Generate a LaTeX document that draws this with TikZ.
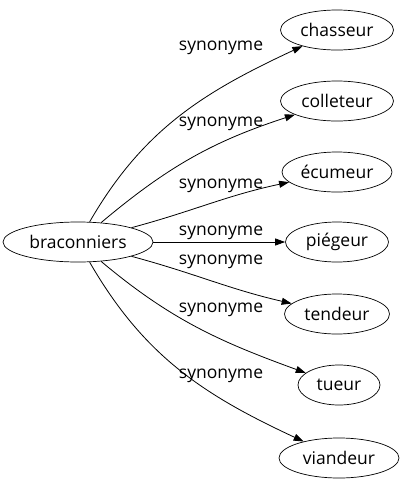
\documentclass[tikz,border=0pt]{standalone}
\usepackage{fontspec}
\setmainfont{Open Sans}
\usepackage{tikz}
\usetikzlibrary{arrows.meta,positioning}
\usetikzlibrary{shapes.geometric}

\begin{document}
\begin{tikzpicture}[x=1pt,y=-1pt,>={Triangle[length=10pt,width=7pt]},line width=.8pt]%
                    \useasboundingbox (0,0) rectangle (405,491); %%
                    \begin{scope}
                        \tikzstyle{every node}=[draw,ellipse,line width=.7pt,inner sep=1pt,minimum height=40pt,font=\fontsize{17.5}{20}\selectfont];%%
                        \node[minimum width=150pt] (bra) at (78,242)  {braconniers}; %%
                        \node[minimum width=113pt] (cha) at (337,30)  {chasseur}; %%
                        \node[minimum width=113pt] (col) at (337,101)  {colleteur}; %%
                        \node[minimum width=110pt] (ecu) at (337,172)  {écumeur}; %%
                        \node[minimum width=103pt] (pie) at (337,242)  {piégeur}; %%
                        \node[minimum width=105pt] (ten) at (337,314)  {tendeur}; %%
                        \node[minimum width=82pt] (tue) at (339,385)  {tueur}; %%
                        \node[minimum width=120pt] (via) at (339,458)  {viandeur}; %%
                    \end{scope}
                    \begin{scope}
                        \tikzstyle{every node}=[inner sep=0pt,font=\fontsize{17.5}{20}\selectfont];%%
                        \node (l1) at (221,48)  {synonyme}; %%
                        \node (l2) at (221,124)  {synonyme}; %%
                        \node (l3) at (221,186)  {synonyme}; %%
                        \node (l4) at (221,233)  {synonyme}; %%
                        \node (l5) at (221,262)  {synonyme}; %%
                        \node (l6) at (221,310)  {synonyme}; %%
                        \node (l7) at (221,376)  {synonyme}; %%
                    \end{scope}
                        \draw[->] (bra) to[out=60,in=205] (cha); %%
                        \draw[->] (bra) to[out=40,in=198] (col); %%
                        \draw[->] (bra) to[out=15,in=192] (ecu); %%
                        \draw[->] (bra) -- (pie); %%
                        \draw[->] (bra) to[out=-15,in=167] (ten); %%
                        \draw[->] (bra) to[out=-40,in=160] (tue); %%
                        \draw[->] (bra) to[out=-60,in=155] (via); %%
                    \end{tikzpicture}
\end{document}
